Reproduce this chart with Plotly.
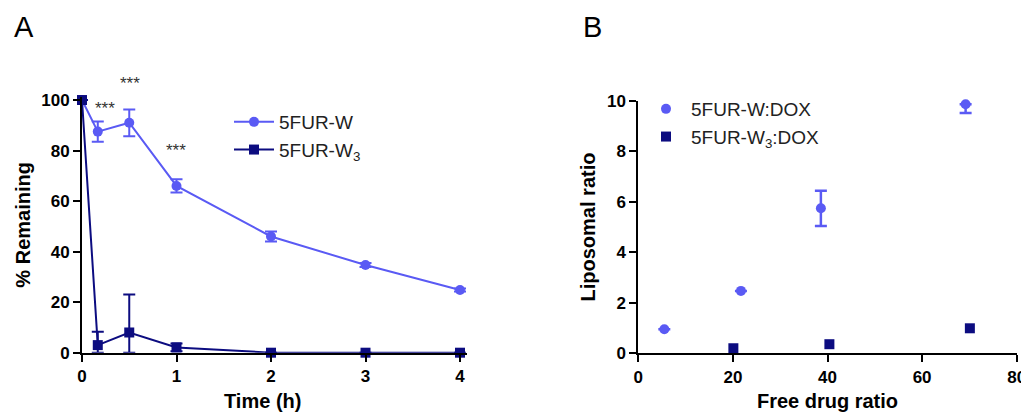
import plotly.graph_objects as go

# ---------------- Panel A data ----------------
time_h = [0, 0.167, 0.5, 1, 2, 3, 4]
w_remaining = [100, 87.5, 91, 66, 46, 34.7, 24.8]
w_err_plus = [0, 4, 5.3, 2.6, 2, 0.8, 0.6]
w_err_minus = [0, 4, 5.3, 2.6, 2, 0.8, 0.6]
w3_remaining = [100, 3, 8, 2.1, 0, 0, 0]
w3_err_plus = [0, 5.3, 15, 1.5, 0, 0, 0]
w3_err_minus = [0, 3, 8, 1.5, 0, 0, 0]
sig_x = [0.24, 0.51, 0.99]
sig_y = [101.2, 111, 84.5]
sig_text = ["***", "***", "***"]

# ---------------- Panel B data ----------------
free_w = [5.5, 21.7, 38.6, 69.2]
lipo_w = [0.95, 2.47, 5.74, 9.86]
lipo_w_err_plus = [None, None, 0.7, 0]
lipo_w_err_minus = [None, None, 0.7, 0.35]
free_w3 = [20.1, 40.4, 70.1]
lipo_w3 = [0.2, 0.36, 0.99]

xticks_a = [0, 1, 2, 3, 4]
yticks_a = [0, 20, 40, 60, 80, 100]
xticks_b = [0, 20, 40, 60, 80]
yticks_b = [0, 2, 4, 6, 8, 10]

YMAX_A = 101.2

LIGHT = "#5a5af4"
DARK = "#0c0c80"
FONT = "Liberation Sans, Arial, sans-serif"

# page body has an 8px margin; size figure to the visible area
OFF = 8
W, H = 1029 - OFF, 415 - OFF


def px(x):
    return (x - OFF) / W


def py(y):
    return 1 - (y - OFF) / H


fig = go.Figure()

fig.add_trace(go.Scatter(
    x=time_h, y=w_remaining, name="5FUR-W", mode="lines+markers",
    line=dict(color=LIGHT, width=2),
    marker=dict(symbol="circle", size=10, color=LIGHT),
    error_y=dict(type="data", symmetric=False, array=w_err_plus, arrayminus=w_err_minus,
                 color=LIGHT, thickness=2, width=6),
    cliponaxis=False, xaxis="x", yaxis="y", legend="legend",
))
fig.add_trace(go.Scatter(
    x=time_h, y=w3_remaining, name="5FUR-W<sub>3</sub>", mode="lines+markers",
    line=dict(color=DARK, width=2),
    marker=dict(symbol="square", size=10, color=DARK),
    error_y=dict(type="data", symmetric=False, array=w3_err_plus, arrayminus=w3_err_minus,
                 color=DARK, thickness=2, width=6),
    cliponaxis=False, xaxis="x", yaxis="y", legend="legend",
))

fig.add_trace(go.Scatter(
    x=free_w, y=lipo_w, name="5FUR-W:DOX", mode="markers",
    marker=dict(symbol="circle", size=10, color=LIGHT),
    error_y=dict(type="data", symmetric=False, array=lipo_w_err_plus, arrayminus=lipo_w_err_minus,
                 color=LIGHT, thickness=2.5, width=6),
    cliponaxis=False, xaxis="x2", yaxis="y2", legend="legend2",
))
fig.add_trace(go.Scatter(
    x=free_w3, y=lipo_w3, name="5FUR-W<sub>3</sub>:DOX", mode="markers",
    marker=dict(symbol="square", size=10, color=DARK),
    cliponaxis=False, xaxis="x2", yaxis="y2", legend="legend2",
))

for sx, sy, st in zip(sig_x, sig_y, sig_text):
    fig.add_annotation(x=sx, y=sy / YMAX_A, xref="x", yref="y domain", text=st, showarrow=False,
                       font=dict(family=FONT, size=17, color="#333333"))

fig.add_annotation(x=px(12), y=py(9), xref="paper", yref="paper", text="A",
                   showarrow=False, xanchor="left", yanchor="top",
                   font=dict(family=FONT, size=29, color="black"))
fig.add_annotation(x=px(581), y=py(9), xref="paper", yref="paper", text="B",
                   showarrow=False, xanchor="left", yanchor="top",
                   font=dict(family=FONT, size=29, color="black"))

TITLE_FONT = dict(family=FONT, size=20, color="black", weight="bold")

# x title of panel A (sits slightly left of the axis centre in the original)
fig.add_annotation(x=px(262), y=py(401), xref="paper", yref="paper", text="Time (h)",
                   showarrow=False, xanchor="center", yanchor="middle", font=TITLE_FONT)

axis_common = dict(showline=True, linecolor="black", linewidth=2, ticks="outside",
                   ticklen=7, tickwidth=2, tickcolor="black", showgrid=False, zeroline=False,
                   automargin=False,
                   tickfont=dict(family=FONT, size=17, color="black", weight="bold"),
                   title_font=TITLE_FONT)

fig.update_layout(
    width=W, height=H,
    margin=dict(l=0, r=0, t=0, b=0),
    paper_bgcolor="white", plot_bgcolor="white",
    showlegend=True,
    xaxis=dict(domain=[px(82), px(467)], range=[0, 4.074], tickvals=xticks_a,
               anchor="y", **axis_common),
    yaxis=dict(domain=[py(352.7), py(97)], range=[0, YMAX_A], tickvals=yticks_a,
               anchor="x", title=dict(text="% Remaining", standoff=5), **axis_common),
    xaxis2=dict(domain=[px(638.3), px(1016.7)], range=[0, 80], tickvals=xticks_b,
                anchor="y2", title=dict(text="Free drug ratio", standoff=8), **axis_common),
    yaxis2=dict(domain=[py(353.3), py(100.7)], range=[0, 10], tickvals=yticks_b,
                anchor="x2", title=dict(text="Liposomal ratio", standoff=6), **axis_common),
    legend=dict(x=px(229), y=py(103), xanchor="left", yanchor="top",
                bgcolor="rgba(0,0,0,0)", itemwidth=40, tracegroupgap=0,
                font=dict(family=FONT, size=19, color="#222222")),
    legend2=dict(x=px(641), y=py(90), xanchor="left", yanchor="top",
                 bgcolor="rgba(0,0,0,0)", itemwidth=40, tracegroupgap=0,
                 font=dict(family=FONT, size=19, color="#222222")),
)

fig.write_html("out.html")
